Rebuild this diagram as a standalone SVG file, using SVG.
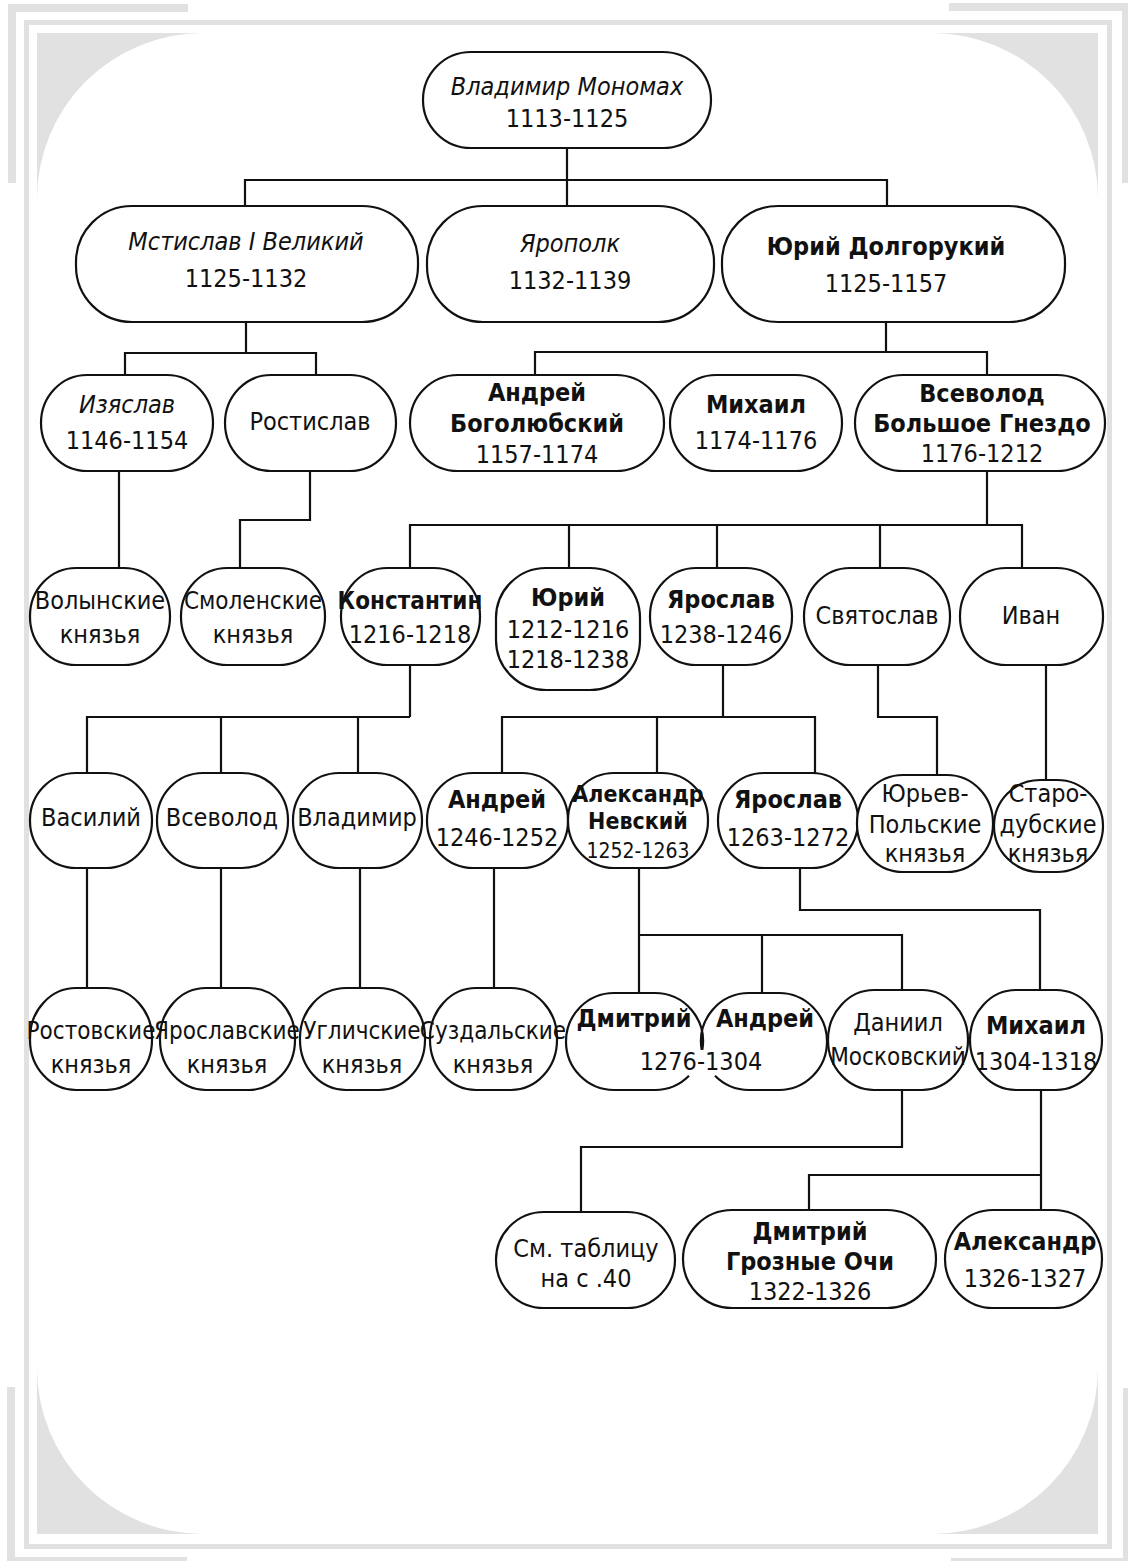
<svg xmlns="http://www.w3.org/2000/svg" width="1128" height="1561" viewBox="0 0 1128 1561">
<style>
.frame{fill:#e1e1e1}
.node{fill:#fff;stroke:#111;stroke-width:2.2}
.open{fill:none;stroke:#111;stroke-width:2.2}
.c{fill:none;stroke:#111;stroke-width:2.2}
text{font-family:"DejaVu Sans Condensed","DejaVu Sans",sans-serif;font-stretch:condensed;font-size:25px;text-anchor:middle;fill:#111}
.b{font-weight:bold}
.i{font-style:italic}
.s{font-size:21px}
.m{font-size:23px}
.n{font-size:24px}
</style>
<rect width="1128" height="1561" fill="#fff"/>
<g id="frame">
<rect class="frame" x="8" y="4" width="180" height="8"/>
<rect class="frame" x="8" y="4" width="8" height="179"/>
<rect class="frame" x="949" y="3" width="179" height="8"/>
<rect class="frame" x="1122" y="3" width="6" height="180"/>
<rect class="frame" x="7" y="1387" width="8" height="174"/>
<rect class="frame" x="7" y="1557" width="180" height="4"/>
<rect class="frame" x="1123" y="1388" width="5" height="173"/>
<rect class="frame" x="951" y="1558" width="177" height="3"/>
<rect x="26.5" y="22.5" width="1083" height="1524" fill="none" stroke="#e1e1e1" stroke-width="5"/>
<rect class="frame" x="37" y="33" width="1061" height="1501"/>
<rect x="37" y="33" width="1061" height="1501" rx="166" ry="166" fill="#fff"/>
</g>
<g id="connectors">
<path class="c" d="M567,148V206M245,206V180H887V206"/>
<path class="c" d="M246,322V353M125,375V353H316V375"/>
<path class="c" d="M886,322V352M535,375V352H987V375"/>
<path class="c" d="M119,471V568M310,471V520H240V568"/>
<path class="c" d="M987,471V525M410,568V525H1022V568M569,525V568M717,525V568M880,525V568"/>
<path class="c" d="M410,665V717M87,773V717H410M221,717V773M358,717V773"/>
<path class="c" d="M723,665V717M502,773V717H815V773M657,717V773"/>
<path class="c" d="M878,665V717H937V775"/>
<path class="c" d="M1046,665V780"/>
<path class="c" d="M87,868V988M221,868V988M360,868V988M494,868V988"/>
<path class="c" d="M639,868V993M639,935H902V990M762,935V993"/>
<path class="c" d="M800,868V910H1040V990"/>
<path class="c" d="M902,1090V1147H581V1212"/>
<path class="c" d="M1041,1090V1210M1041,1175H809V1210"/>
</g>
<g id="n-vladimir-monomakh"><rect class="node" x="423" y="52" width="288" height="96" rx="48" ry="48"/><text class="i" x="567" y="95">Владимир Мономах</text><text x="567" y="127">1113-1125</text></g>
<g id="n-mstislav"><rect class="node" x="76" y="206" width="342" height="116" rx="56" ry="56"/><text class="i" x="246" y="250">Мстислав I Великий</text><text x="246" y="287">1125-1132</text></g>
<g id="n-yaropolk"><rect class="node" x="427" y="206" width="287" height="116" rx="56" ry="56"/><text class="i" x="570" y="252">Ярополк</text><text x="570" y="289">1132-1139</text></g>
<g id="n-yuri-dolgoruky"><rect class="node" x="722" y="206" width="343" height="116" rx="56" ry="56"/><text class="b" x="886" y="255">Юрий Долгорукий</text><text x="886" y="292">1125-1157</text></g>
<g id="n-izyaslav"><rect class="node" x="41" y="375" width="172" height="96" rx="46" ry="48"/><text class="i" x="127" y="413">Изяслав</text><text x="127" y="449">1146-1154</text></g>
<g id="n-rostislav"><rect class="node" x="225" y="375" width="171" height="96" rx="46" ry="48"/><text x="310" y="430">Ростислав</text></g>
<g id="n-andrey-bogolyubsky"><rect class="node" x="410" y="375" width="254" height="96" rx="48" ry="48"/><text class="b" x="537" y="401">Андрей</text><text class="b" x="537" y="432">Боголюбский</text><text x="537" y="463">1157-1174</text></g>
<g id="n-mikhail"><rect class="node" x="670" y="375" width="172" height="96" rx="46" ry="48"/><text class="b" x="756" y="413">Михаил</text><text x="756" y="449">1174-1176</text></g>
<g id="n-vsevolod-bg"><rect class="node" x="855" y="375" width="250" height="96" rx="48" ry="48"/><text class="b" x="982" y="402">Всеволод</text><text class="b" x="982" y="432">Большое Гнездо</text><text x="982" y="462">1176-1212</text></g>
<g id="n-volynskie"><rect class="node" x="30" y="568" width="140" height="97" rx="46" ry="48"/><text x="100" y="609">Волынские</text><text x="100" y="643">князья</text></g>
<g id="n-smolenskie"><rect class="node" x="181" y="568" width="144" height="97" rx="46" ry="48"/><text class="n" x="253" y="609">Смоленские</text><text x="253" y="643">князья</text></g>
<g id="n-konstantin"><rect class="node" x="341" y="568" width="139" height="97" rx="46" ry="48"/><text class="b n" x="410" y="609">Константин</text><text x="410" y="643">1216-1218</text></g>
<g id="n-yuri"><rect class="node" x="496" y="568" width="144" height="122" rx="50" ry="50"/><text class="b" x="568" y="606">Юрий</text><text x="568" y="638">1212-1216</text><text x="568" y="668">1218-1238</text></g>
<g id="n-yaroslav"><rect class="node" x="650" y="568" width="142" height="97" rx="46" ry="48"/><text class="b" x="721" y="608">Ярослав</text><text x="721" y="643">1238-1246</text></g>
<g id="n-svyatoslav"><rect class="node" x="804" y="568" width="146" height="97" rx="46" ry="48"/><text x="877" y="624">Святослав</text></g>
<g id="n-ivan"><rect class="node" x="960" y="568" width="143" height="97" rx="46" ry="48"/><text x="1031" y="624">Иван</text></g>
<g id="n-vasiliy"><rect class="node" x="30" y="773" width="122" height="95" rx="46" ry="47"/><text x="91" y="826">Василий</text></g>
<g id="n-vsevolod"><rect class="node" x="157" y="773" width="131" height="95" rx="46" ry="47"/><text x="222" y="826">Всеволод</text></g>
<g id="n-vladimir"><rect class="node" x="293" y="773" width="129" height="95" rx="46" ry="47"/><text x="357" y="826">Владимир</text></g>
<g id="n-andrey"><rect class="node" x="427" y="773" width="141" height="95" rx="46" ry="47"/><text class="b" x="497" y="808">Андрей</text><text x="497" y="846">1246-1252</text></g>
<g id="n-alexander-nevsky"><rect class="node" x="568" y="773" width="140" height="95" rx="46" ry="47"/><text class="b m" x="638" y="802">Александр</text><text class="b m" x="638" y="829">Невский</text><text class="s" x="638" y="858">1252-1263</text></g>
<g id="n-yaroslav2"><rect class="node" x="718" y="773" width="140" height="95" rx="46" ry="47"/><text class="b" x="788" y="808">Ярослав</text><text x="788" y="846">1263-1272</text></g>
<g id="n-yuryev"><rect class="node" x="857" y="775" width="136" height="97" rx="46" ry="48"/><text x="925" y="802">Юрьев-</text><text x="925" y="833">Польские</text><text x="925" y="862">князья</text></g>
<g id="n-starodub"><rect class="node" x="994" y="780" width="109" height="92" rx="46" ry="46"/><text x="1048" y="802">Старо-</text><text x="1048" y="833">дубские</text><text x="1048" y="862">князья</text></g>
<g id="n-rostovskie"><rect class="node" x="30" y="988" width="122" height="102" rx="46" ry="50"/><text class="n" x="91" y="1039">Ростовские</text><text x="91" y="1073">князья</text></g>
<g id="n-yaroslavskie"><rect class="node" x="160" y="988" width="135" height="102" rx="46" ry="50"/><text class="n" x="227" y="1039">Ярославские</text><text x="227" y="1073">князья</text></g>
<g id="n-uglichskie"><rect class="node" x="300" y="988" width="125" height="102" rx="46" ry="50"/><text class="n" x="362" y="1039">Угличские</text><text x="362" y="1073">князья</text></g>
<g id="n-suzdalskie"><rect class="node" x="430" y="988" width="127" height="102" rx="46" ry="50"/><text class="n" x="493" y="1039">Суздальские</text><text x="493" y="1073">князья</text></g>
<g id="n-dmitry"><path class="open" d="M702.3,1049.9A48,48.5 0 0 0 655,993H614A48,48.5 0 0 0 614,1090H655A48,48.5 0 0 0 689,1075.8"/><text class="b" x="634" y="1027">Дмитрий</text></g>
<g id="n-andrey2"><path class="open" d="M701.7,1049.9A48,48.5 0 0 1 749,993H779A48,48.5 0 0 1 779,1090H749A48,48.5 0 0 1 715,1075.8"/><text class="b" x="765" y="1027">Андрей</text></g>
<text id="t-dmitry-andrey-years" x="701" y="1070">1276-1304</text>
<g id="n-daniil"><rect class="node" x="828" y="990" width="140" height="100" rx="46" ry="50"/><text x="898" y="1031">Даниил</text><text class="n" x="898" y="1065">Московский</text></g>
<g id="n-mikhail2"><rect class="node" x="970" y="990" width="132" height="100" rx="46" ry="50"/><text class="b" x="1036" y="1034">Михаил</text><text x="1036" y="1070">1304-1318</text></g>
<g id="n-see-table"><rect class="node" x="496" y="1212" width="179" height="96" rx="48" ry="48"/><text x="586" y="1257">См. таблицу</text><text x="586" y="1287">на с .40</text></g>
<g id="n-dmitry-groznye"><rect class="node" x="683" y="1210" width="253" height="98" rx="49" ry="49"/><text class="b" x="810" y="1240">Дмитрий</text><text class="b" x="810" y="1270">Грозные Очи</text><text x="810" y="1300">1322-1326</text></g>
<g id="n-alexander"><rect class="node" x="945" y="1210" width="157" height="98" rx="48" ry="49"/><text class="b" x="1025" y="1250">Александр</text><text x="1025" y="1287">1326-1327</text></g>
</svg>
